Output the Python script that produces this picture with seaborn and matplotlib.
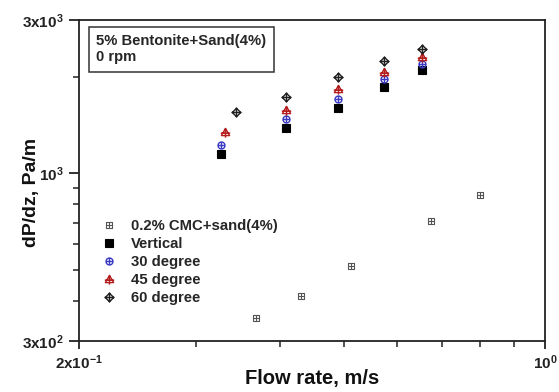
import numpy as np
import pandas as pd
import matplotlib
matplotlib.use("Agg")
import matplotlib.pyplot as plt
from matplotlib.path import Path
from matplotlib.ticker import FixedLocator, NullFormatter, FixedFormatter
import seaborn as sns

# ---- data ----
cmc_x = [0.368, 0.430, 0.511, 0.675, 0.798]
cmc_y = [355, 415, 514, 708, 857]

vert_x = [0.327, 0.409, 0.490, 0.573, 0.654]
vert_y = [1147, 1379, 1600, 1851, 2091]

d30_x = [0.327, 0.409, 0.490, 0.573, 0.654]
d30_y = [1226, 1472, 1702, 1965, 2193]

d45_x = [0.331, 0.409, 0.490, 0.573, 0.654]
d45_y = [1346, 1573, 1829, 2071, 2295]

d60_x = [0.344, 0.409, 0.490, 0.573, 0.654]
d60_y = [1551, 1727, 1989, 2231, 2442]

labels = ["0.2% CMC+sand(4%)", "Vertical", "30 degree", "45 degree", "60 degree"]
x_ticks = [0.2, 1.0]
x_tick_labels = ["2x10$^{-1}$", "10$^{0}$"]
y_ticks = [300, 1000, 3000]
y_tick_labels = ["3x10$^{2}$", "10$^{3}$", "3x10$^{3}$"]

sns.set_style("ticks")
plt.rcParams["font.family"] = ["Liberation Sans", "DejaVu Sans"]
plt.rcParams["font.weight"] = "bold"
plt.rcParams["mathtext.fontset"] = "custom"
plt.rcParams["mathtext.rm"] = "Liberation Sans:bold"
plt.rcParams["mathtext.it"] = "Liberation Sans:bold"
plt.rcParams["mathtext.bf"] = "Liberation Sans:bold"
plt.rcParams["mathtext.default"] = "rm"


def compound(outline, extra):
    verts, codes = [], []
    verts += outline + [outline[0]]
    codes += [Path.MOVETO] + [Path.LINETO] * (len(outline) - 1) + [Path.CLOSEPOLY]
    for a, b in extra:
        verts += [a, b]
        codes += [Path.MOVETO, Path.LINETO]
    return Path(verts, codes)

sq = [(-1, -1), (1, -1), (1, 1), (-1, 1)]
m_sqplus = compound(sq, [((-1, 0), (1, 0)), ((0, -1), (0, 1))])
th = np.linspace(0, 2 * np.pi, 33)[:-1]
circ = [(np.cos(t), np.sin(t)) for t in th]
m_cplus = compound(circ, [((-1, 0), (1, 0)), ((0, -1), (0, 1))])
tri = [(-1, -0.75), (1, -0.75), (0, 1)]
m_tplus = compound(tri, [((-1.15, -0.15), (1.15, -0.15)), ((0, -1.25), (0, 1))])
dia = [(0, 1), (1, 0), (0, -1), (-1, 0)]
m_dplus = compound(dia, [((-1.15, 0), (1.15, 0)), ((0, -1.15), (0, 1.15))])

fig = plt.figure(figsize=(5.59, 3.92), dpi=100)
ax = fig.add_axes([79 / 559, 51 / 392, 466 / 559, 321 / 392])

series = [
    (cmc_x, cmc_y, m_sqplus, "#555555", "none", 4.6, 0.8),
    (vert_x, vert_y, "s", "black", "black", 5.2, 0.8),
    (d30_x, d30_y, m_cplus, "#3a3ac4", "none", 5.0, 1.0),
    (d45_x, d45_y, m_tplus, "#b41e1e", "none", 7.4, 1.0),
    (d60_x, d60_y, m_dplus, "#202020", "none", 7.0, 1.0),
]
for (xs, ys, mk, col, fc, ms, lw), lab in zip(series, labels):
    df = pd.DataFrame({"x": xs, "y": ys})
    sns.lineplot(data=df, x="x", y="y", ax=ax, marker=mk, linestyle="",
                 color=col, mec=col, mfc=fc, ms=ms, mew=lw, label=lab,
                 errorbar=None, sort=False)

ax.set_xscale("log")
ax.set_yscale("log")
ax.set_xlim(0.2, 1.0)
ax.set_ylim(300, 3000)

ax.xaxis.set_major_locator(FixedLocator(x_ticks))
ax.xaxis.set_major_formatter(FixedFormatter(x_tick_labels))
ax.xaxis.set_minor_locator(FixedLocator([0.3, 0.4, 0.5, 0.6, 0.7, 0.8, 0.9]))
ax.xaxis.set_minor_formatter(NullFormatter())
ax.yaxis.set_major_locator(FixedLocator(y_ticks))
ax.yaxis.set_major_formatter(FixedFormatter(y_tick_labels))
ax.yaxis.set_minor_locator(FixedLocator([400, 500, 600, 700, 800, 900, 2000]))
ax.yaxis.set_minor_formatter(NullFormatter())

ax.tick_params(which="major", direction="out", length=7, width=1.3,
               labelsize=11, colors="#222222", pad=4)
ax.tick_params(which="minor", direction="out", length=4, width=1.1, colors="#222222")
ax.tick_params(axis="x", which="major", length=6, pad=3)
for lab in ax.get_xticklabels() + ax.get_yticklabels():
    lab.set_fontweight("bold")
for sp in ax.spines.values():
    sp.set_linewidth(1.3)
    sp.set_color("#222222")

ax.set_xlabel("Flow rate, m/s", fontsize=14.5, fontweight="bold", color="#111111",
              va="center")
ax.xaxis.set_label_coords(0.5, -0.117)
ax.set_ylabel("dP/dz, Pa/m", fontsize=14, fontweight="bold", color="#111111",
              va="center")
ax.yaxis.set_label_coords(-0.103, 0.464)

ax.text(0.0365, 0.955, "5% Bentonite+Sand(4%)\n0 rpm", transform=ax.transAxes,
        ha="left", va="top", fontsize=10.7, fontweight="bold", linespacing=1.15,
        bbox=dict(boxstyle="square,pad=0.5", fc="white", ec="#333333", lw=1.1))

leg = ax.legend(loc="center left", bbox_to_anchor=(0.019, 0.246), frameon=False,
                fontsize=10.7, handlelength=1.0, handletextpad=1.0,
                labelspacing=0.28, borderpad=0.4)
for t in leg.get_texts():
    t.set_fontweight("bold")

fig.savefig("out.png", dpi=100)
